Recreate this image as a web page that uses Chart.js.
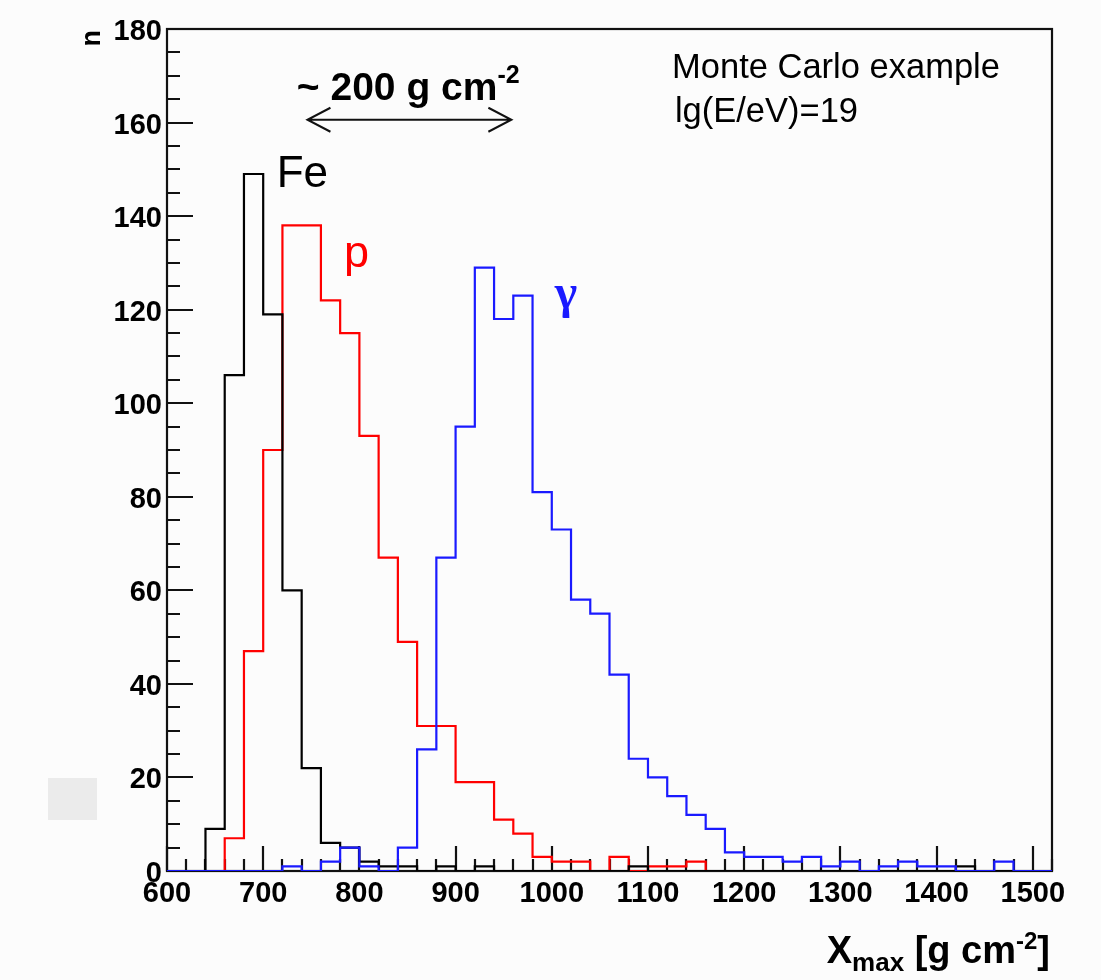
<!DOCTYPE html>
<html>
<head>
<meta charset="utf-8">
<script src="https://cdn.jsdelivr.net/npm/chart.js@4/dist/chart.umd.min.js"></script>
<style>
  html, body { margin: 0; padding: 0; background: #fcfcfc; }
  #wrap { position: relative; width: 1101px; height: 980px; }
  #mancha { position: absolute; left: 48px; top: 778px; width: 49px; height: 42px; background: #ebebeb; }
</style>
</head>
<body>
<div id="wrap">
  <canvas id="grafico_xmax" width="1101" height="980"></canvas>
  <div id="mancha"></div>
</div>
<script>
// bordas dos bins (g cm^-2), largura 20
const binEdges = [600, 620, 640, 660, 680, 700, 720, 740, 760, 780,
  800, 820, 840, 860, 880, 900, 920, 940, 960, 980,
  1000, 1020, 1040, 1060, 1080, 1100, 1120, 1140, 1160, 1180,
  1200, 1220, 1240, 1260, 1280, 1300, 1320, 1340, 1360, 1380,
  1400, 1420, 1440, 1460, 1480, 1500, 1520]

// contagens por bin (a partir de 600)
const countsFe = [0, 0, 9, 106, 149, 119, 60, 22, 6, 5,
  2, 1, 1, 0, 1, 0, 1, 0, 0, 0,
  0, 0, 0, 0, 1, 0, 0, 0, 0, 0,
  0, 0, 0, 0, 0, 0, 0, 0, 0, 0,
  0, 1, 0, 0, 0, 0]

const countsP = [0, 0, 0, 7, 47, 90, 138, 138, 122, 115,
  93, 67, 49, 31, 31, 19, 19, 11, 8, 3,
  2, 2, 0, 3, 0, 1, 1, 2, 0, 0,
  0, 0, 0, 0, 0, 0, 0, 0, 0, 0,
  0, 0, 0, 0, 0, 0]

const countsGamma = [0, 0, 0, 0, 0, 0, 1, 0, 2, 5,
  1, 0, 5, 26, 67, 95, 129, 118, 123, 81,
  73, 58, 55, 42, 24, 20, 16, 12, 9, 4,
  3, 3, 2, 3, 1, 2, 0, 1, 2, 1,
  1, 0, 0, 2, 0, 0]

const xTickLabels = [600, 700, 800, 900, 1000, 1100, 1200, 1300, 1400, 1500]
const yTickLabels = [0, 20, 40, 60, 80, 100, 120, 140, 160, 180]

const fonte = 'Liberation Sans'

// pontos do histograma em degraus: cada bin começa na sua borda inferior
function histPoints(counts) {
  const pts = counts.map((c, i) => ({ x: binEdges[i], y: c }))
  pts.push({ x: binEdges[binEdges.length - 1], y: 0 })
  return pts
}

// escreve pedaços de texto com fontes / deslocamentos diferentes
function textRuns(ctx, runs, x, y, align) {
  let w = 0
  runs.forEach(r => { ctx.font = r.font; w += ctx.measureText(r.text).width })
  let cx = align === 'right' ? x - w : x
  ctx.textAlign = 'left'
  ctx.textBaseline = 'alphabetic'
  runs.forEach(r => {
    ctx.font = r.font
    ctx.fillStyle = r.color || '#000'
    ctx.fillText(r.text, cx, y + (r.dy || 0))
    cx += ctx.measureText(r.text).width
  })
}

// moldura e ticks para dentro, estilo ROOT
const moldura = {
  id: 'moldura',
  beforeDatasetsDraw(chart) {
    const { ctx, chartArea: a, scales: { x, y } } = chart
    ctx.save()
    ctx.strokeStyle = '#111'
    ctx.lineWidth = 2.2
    ctx.strokeRect(a.left, a.top, a.right - a.left, a.bottom - a.top)
    ctx.beginPath()
    for (let v = x.min; v <= x.max; v += 20) {
      const px = Math.round(x.getPixelForValue(v))
      const len = v % 100 === 0 ? 25 : 12
      ctx.moveTo(px, a.bottom)
      ctx.lineTo(px, a.bottom - len)
    }
    for (let v = y.min; v <= y.max; v += 5) {
      const py = Math.round(y.getPixelForValue(v))
      const len = v % 20 === 0 ? 26 : 13
      ctx.moveTo(a.left, py)
      ctx.lineTo(a.left + len, py)
    }
    ctx.stroke()
    ctx.restore()
  },
  afterDraw(chart) {
    const { ctx, scales: { x, y } } = chart
    ctx.save()

    // títulos dos eixos
    textRuns(ctx, [
      { text: 'X', font: `bold 38px ${fonte}` },
      { text: 'max', font: `bold 26px ${fonte}`, dy: 8 },
      { text: ' [g cm', font: `bold 38px ${fonte}` },
      { text: '-2', font: `bold 24px ${fonte}`, dy: -14 },
      { text: ']', font: `bold 38px ${fonte}` }
    ], 1050, 963, 'right')

    ctx.save()
    ctx.translate(100, 30)
    ctx.rotate(-Math.PI / 2)
    ctx.font = `bold 27px ${fonte}`
    ctx.fillStyle = '#000'
    ctx.textAlign = 'right'
    ctx.textBaseline = 'alphabetic'
    ctx.fillText('n', 0, 0)
    ctx.restore()

    // seta de ~200 g cm^-2
    const ay = y.getPixelForValue(160.6)
    const ax1 = x.getPixelForValue(746)
    const ax2 = x.getPixelForValue(958)
    ctx.strokeStyle = '#111'
    ctx.lineWidth = 2
    ctx.beginPath()
    ctx.moveTo(ax1, ay); ctx.lineTo(ax2, ay)
    ctx.moveTo(ax1 + 23, ay - 12); ctx.lineTo(ax1, ay); ctx.lineTo(ax1 + 23, ay + 12)
    ctx.moveTo(ax2 - 23, ay - 12); ctx.lineTo(ax2, ay); ctx.lineTo(ax2 - 23, ay + 12)
    ctx.stroke()

    textRuns(ctx, [
      { text: '~ 200 g cm', font: `bold 39px ${fonte}` },
      { text: '-2', font: `bold 25px ${fonte}`, dy: -17 }
    ], x.getPixelForValue(735), y.getPixelForValue(164.8), 'left')

    textRuns(ctx, [{ text: 'Monte Carlo example', font: `34.5px ${fonte}` }],
      x.getPixelForValue(1125), y.getPixelForValue(169.5), 'left')
    textRuns(ctx, [{ text: 'lg(E/eV)=19', font: `34.5px ${fonte}` }],
      x.getPixelForValue(1128), y.getPixelForValue(160.1), 'left')

    // rótulos das curvas
    textRuns(ctx, [{ text: 'Fe', font: `44px ${fonte}`, color: '#000' }],
      x.getPixelForValue(714), y.getPixelForValue(146.3), 'left')
    textRuns(ctx, [{ text: 'p', font: `45px ${fonte}`, color: '#ff0000' }],
      x.getPixelForValue(784), y.getPixelForValue(129.2), 'left')
    textRuns(ctx, [{ text: 'γ', font: `bold 48px 'Liberation Serif'`, color: '#1a1aff' }],
      x.getPixelForValue(1003), y.getPixelForValue(120.4), 'left')

    ctx.restore()
  }
}

const ctxXmax = document.getElementById('grafico_xmax')

const dataXmax = {
  datasets: [{
    label: 'Fe',
    data: histPoints(countsFe),
    borderColor: '#000',
    order: 1
  }, {
    label: 'p',
    data: histPoints(countsP),
    borderColor: '#ff0000',
    order: 2
  }, {
    label: 'γ',
    data: histPoints(countsGamma),
    borderColor: '#1a1aff',
    order: 0
  }].map(ds => Object.assign(ds, {
    stepped: 'before',
    borderWidth: 2.2,
    pointRadius: 0,
    fill: false,
    tension: 0
  }))
}

const optionsXmax = {
  responsive: false,
  animation: false,
  devicePixelRatio: 1,
  layout: { padding: { top: 29, right: 49, bottom: 49, left: 0 } },
  plugins: { legend: { display: false }, tooltip: { enabled: false } },
  scales: {
    x: {
      type: 'linear',
      min: 600,
      max: 1520,
      afterBuildTicks: s => { s.ticks = xTickLabels.map(v => ({ value: v })) },
      afterFit: s => { s.height = 60 },
      grid: { display: false, drawTicks: false },
      border: { display: false },
      ticks: {
        color: '#000', padding: 6, maxRotation: 0,
        callback: v => String(v),
        font: { family: fonte, size: 29, weight: 'bold' }
      }
    },
    y: {
      min: 0,
      max: 180,
      afterBuildTicks: s => { s.ticks = yTickLabels.map(v => ({ value: v })) },
      afterFit: s => { s.width = 167 },
      grid: { display: false, drawTicks: false },
      border: { display: false },
      ticks: {
        color: '#000', padding: 5, labelOffset: 3,
        callback: v => String(v),
        font: { family: fonte, size: 29, weight: 'bold' }
      }
    }
  }
}

new Chart(ctxXmax, {
  type: 'line',
  data: dataXmax,
  options: optionsXmax,
  plugins: [moldura]
})
</script>
</body>
</html>
